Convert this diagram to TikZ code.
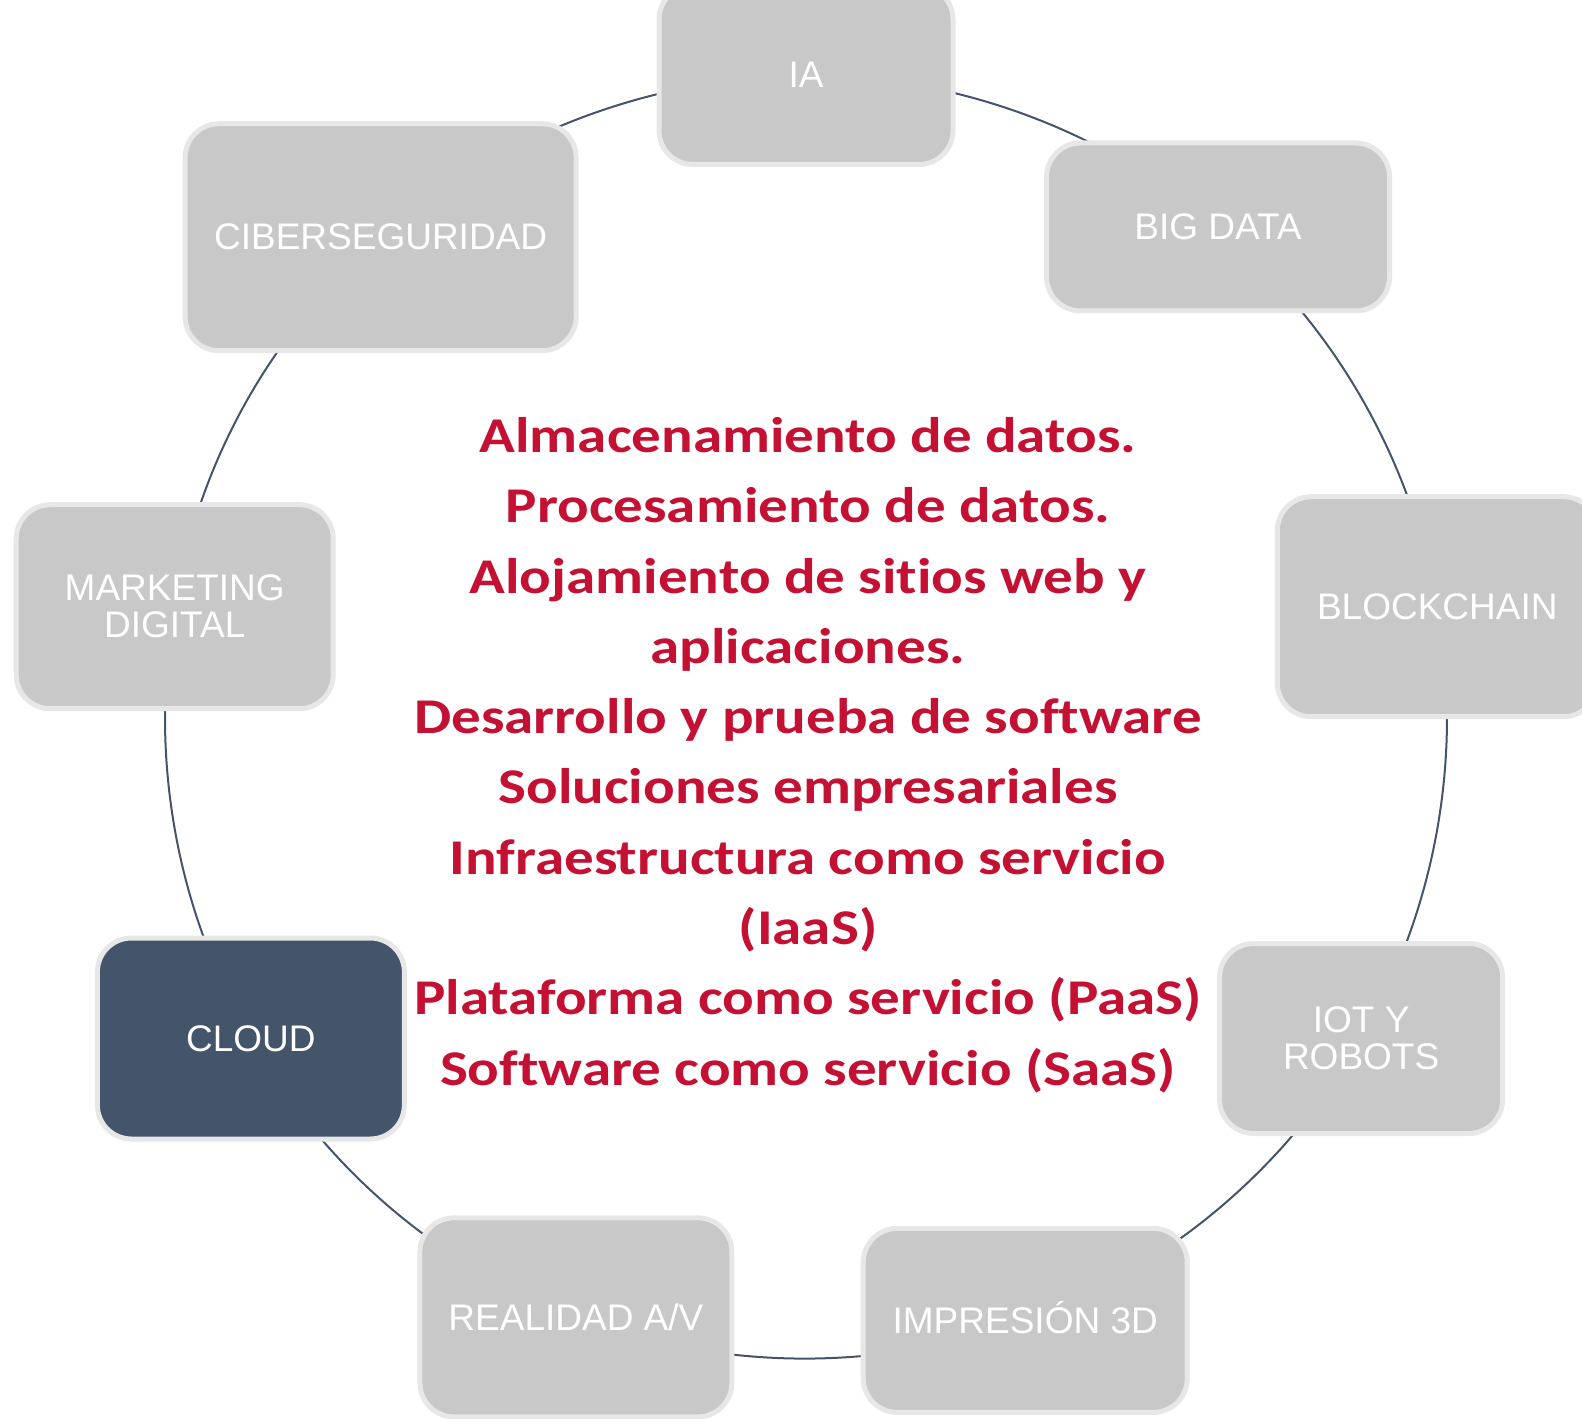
\documentclass[tikz,border=0pt]{standalone}
\usepackage{fontspec}
\setmainfont{Liberation Sans}
\newfontfamily\carlito[FakeStretch=1.18, Ligatures=NoCommon]{Carlito}
\usetikzlibrary{backgrounds}
\definecolor{boxfill}{RGB}{200,200,200}
\definecolor{boxrim}{RGB}{231,231,231}
\definecolor{cloudfill}{RGB}{68,84,106}
\definecolor{ringline}{RGB}{68,84,106}
\definecolor{usetext}{RGB}{196,16,50}
\begin{document}
\begin{tikzpicture}[x=0.5pt, y=0.5pt,
    topic/.style={shape=rectangle, rounded corners=17pt, draw=boxrim, line width=2.5pt, fill=boxfill,
      text=white, inner sep=0pt, align=center, font=\fontsize{18.5}{18.5}\selectfont},
    ring/.style={draw=ringline, line width=1pt, bend left=20, looseness=0.88}]
  \useasboundingbox (-806, 718) rectangle (776, -700);

  \node[topic, minimum width=147pt, minimum height=89.5pt] (ia) at (90:643){IA};
  \node[topic, minimum width=171.5pt, minimum height=84pt] (bigdata) at (50:641){BIG DATA};
  \node[topic, minimum width=160pt, minimum height=110pt] (blockchain) at (10:641){BLOCKCHAIN};
  \node[topic, minimum width=141.5pt, minimum height=95pt] (iot) at (-30:641){IOT Y\\ROBOTS};
  \node[topic, minimum width=162pt, minimum height=92pt] (impresion) at (-70:641){IMPRESI\smash{Ó}N 3D};
  \node[topic, minimum width=156pt, minimum height=99.5pt] (realidad) at (-111:642){REALIDAD A/V};
  \node[topic, fill=cloudfill, minimum width=153.5pt, minimum height=100.5pt] (cloud) at (-150:641){CLOUD};
  \node[topic, minimum width=158.5pt, minimum height=102pt] (marketing) at (170:641){MARKETING\\DIGITAL};
  \node[topic, minimum width=195.5pt, minimum height=113.5pt] (ciber) at (131.5:642){CIBERSEGURIDAD};

  \node[align=center, text=usetext, font=\carlito\bfseries\fontsize{25}{35.15}\selectfont] (usos) at (2, -37){%
    Almacenamiento de datos.\\
    Procesamiento de datos.\\
    Alojamiento de sitios web y\\
    aplicaciones.\\
    Desarrollo y prueba de software\\
    Soluciones empresariales\\
    Infraestructura como servicio\\
    (IaaS)\\
    Plataforma como servicio (PaaS)\\
    Software como servicio (SaaS)};

  \begin{scope}[on background layer]
    \draw[ring] (ia.center) to (bigdata.center);
    \draw[ring] (bigdata.center) to (blockchain.center);
    \draw[ring] (blockchain.center) to (iot.center);
    \draw[ring] (iot.center) to (impresion.center);
    \draw[ring] (impresion.center) to (realidad.center);
    \draw[ring] (realidad.center) to (cloud.center);
    \draw[ring] (cloud.center) to (marketing.center);
    \draw[ring] (marketing.center) to (ciber.center);
    \draw[ring] (ciber.center) to (ia.center);
  \end{scope}
\end{tikzpicture}
\end{document}
